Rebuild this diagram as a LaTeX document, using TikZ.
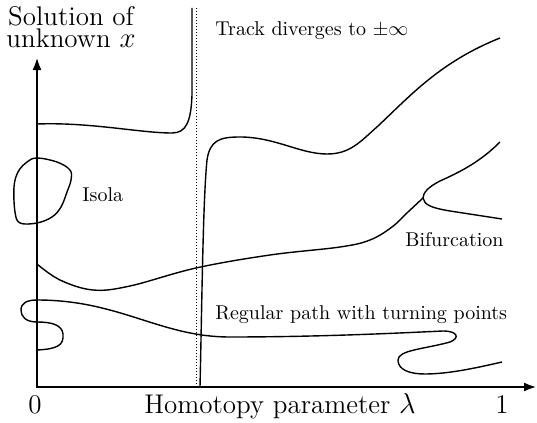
\documentclass[tikz,border=0pt]{standalone}
\usepackage{amsmath}
\usetikzlibrary{arrows.meta}

\begin{document}
\begin{tikzpicture}[x=0.5pt, y=-0.5pt,
    axis/.style={line width=1.4pt, {Latex[length=6.5pt, width=4.5pt]}-{Latex[length=6.5pt, width=4.5pt]}},
    track/.style={line width=0.7pt, line join=round},
    lbl/.style={font=\normalsize, inner sep=0pt, anchor=base west},
    biglbl/.style={font=\fontsize{13.5}{11}\selectfont, inner sep=0pt, anchor=base}
  ]
    \useasboundingbox (0,0) rectangle (537,423);

    % Axes
    \coordinate (O) at (37,387);
    \coordinate (ytop) at (37,57);
    \coordinate (xend) at (537,387);
    \draw[axis] (ytop) -- (O) -- (xend);
    \node[biglbl] (zero) at (35,414) {0};
    \node[biglbl] (one) at (502,414) {1};
    \node[biglbl] (xlab) at (280,414) {Homotopy parameter $\lambda$};
    \node[biglbl, align=center] (ylab) at (71,47) {Solution of\\unknown $x$};

    % Asymptote
    \coordinate (asytop) at (196,8);
    \coordinate (asybot) at (196,387);
    \draw[densely dotted, line width=0.5pt] (asytop) -- (asybot);
    \node[lbl] (diverge) at (215,35) {Track diverges to $\pm\infty$};

    % Track that runs off to infinity
    \draw[track] (37,124) .. controls (90,122) and (140,133) .. (172,133)
      .. controls (186,133) and (191,122) .. (192,95) -- (192,8);
    \draw[track] (200,387) .. controls (202,300) and (203,200) .. (207,160)
      .. controls (210,140) and (220,137) .. (240,137)
      .. controls (275,137) and (300,154) .. (327,154)
      .. controls (350,154) and (360,142) .. (378,126)
      .. controls (410,96) and (440,62) .. (500,38);

    % Isola
    \draw[track] plot[smooth cycle, tension=0.6] coordinates {(37,158) (57,162) (70,170)
      (71,180) (67,192) (61,207) (52,217) (37,223) (20,223) (15,212) (14,187) (18,172) (27,162)};
    \node[lbl] (isola) at (82,201) {Isola};

    % Bifurcation
    \draw[track] plot[smooth, tension=0.6] coordinates {(37,264) (60,280) (93,290) (130,286)
      (196,268) (270,255) (340,247) (370,240) (392,227) (408,212) (423,198)};
    \draw[track] (500,142) .. controls (480,162) and (460,172) .. (440,181)
      .. controls (428,187) and (423,193) .. (423,198)
      .. controls (424,205) and (432,208) .. (450,211) -- (502,219);
    \node[lbl] (bif) at (405,247) {Bifurcation};

    % Regular path with turning points
    \draw[track] (37,350) .. controls (58,349) and (64,345) .. (63,334)
      .. controls (62,325) and (52,322) .. (37,322)
      .. controls (25,322) and (21,316) .. (21,310)
      .. controls (21,303) and (27,300) .. (37,300)
      .. controls (120,300) and (160,337) .. (230,337)
      .. controls (320,337) and (400,333) .. (443,331)
      .. controls (458,331) and (460,338) .. (450,342)
      .. controls (425,349) and (398,350) .. (398,360)
      .. controls (398,370) and (410,374) .. (425,374)
      .. controls (450,374) and (480,367) .. (502,362);
    \node[lbl] (regular) at (215,320) {Regular path with turning points};
\end{tikzpicture}
\end{document}
